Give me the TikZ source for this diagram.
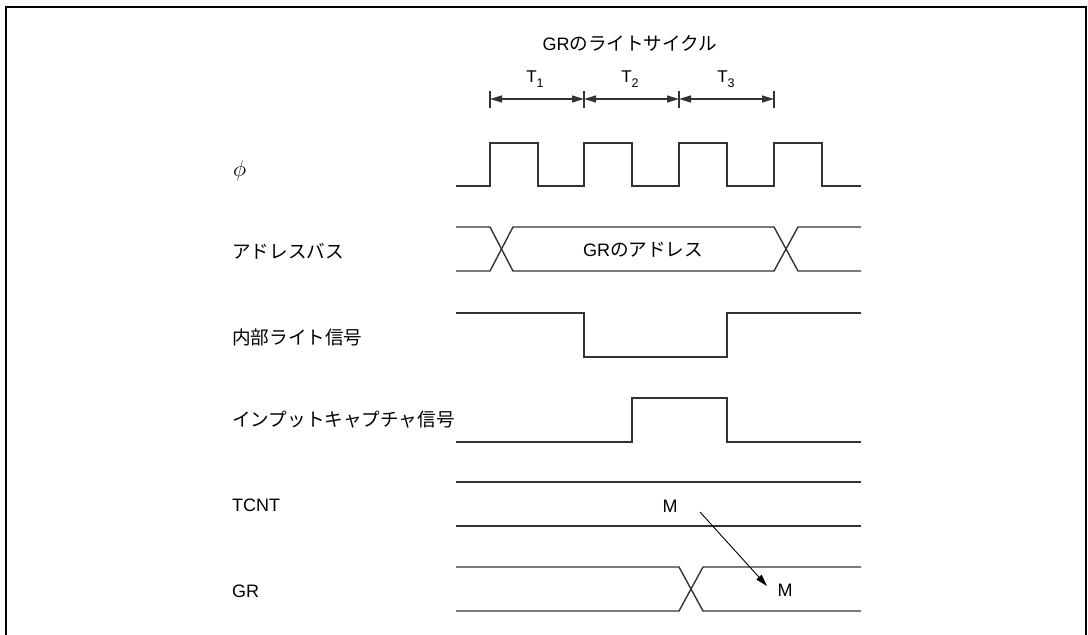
\documentclass[tikz,border=0pt]{standalone}
\usepackage{fontspec}
\setmainfont{Liberation Sans}
\newfontfamily\jpfont{Noto Sans CJK JP}
\usetikzlibrary{arrows.meta}
\newcommand{\JP}[1]{{\jpfont\fontsize{18.6}{22}\selectfont #1}}
\newcommand{\Tsub}[1]{{\fontsize{17}{19}\selectfont T\raisebox{-5pt}{\fontsize{12.5}{13}\selectfont #1}}}
\begin{document}
\begin{tikzpicture}[x=1pt,y=-1pt,
  sig/.style={line width=1.4pt, draw=black!80},
  framebox/.style={line width=2pt, draw=black},
  lbl/.style={anchor=west, inner sep=0pt, font=\fontsize{18}{20}\selectfont},
  txt/.style={inner sep=0pt, font=\fontsize{18}{20}\selectfont},
  tick/.style={line width=1.2pt, draw=black!80},
  dimarrow/.style={line width=1.2pt, draw=black!80, {Triangle[length=12pt,width=7pt]}-{Triangle[length=12pt,width=7pt]}},
  ptr/.style={line width=0.9pt, draw=black, -{Triangle[length=12pt,width=7pt]}}]
\useasboundingbox (0,0) rectangle (1088,635);
\draw[framebox] (6,636) -- (6,7) -- (1086,7) -- (1086,636);

% title and period marks
\node[txt] (title) at (630,43) {GR\JP{のライトサイクル}};
\foreach \x/\n in {490/t0,584/t1,679/t2,774/t3} {
  \coordinate (\n) at (\x,99);
  \draw[tick] (\x,91) -- (\x,108);
}
\draw[dimarrow] (t0) -- (t1);
\draw[dimarrow] (t1) -- (t2);
\draw[dimarrow] (t2) -- (t3);
\node[inner sep=0pt] (T1) at (535,79) {\Tsub{1}};
\node[inner sep=0pt] (T2) at (630,79) {\Tsub{2}};
\node[inner sep=0pt] (T3) at (726,79) {\Tsub{3}};

% signal labels
\node[lbl] (lphi) at (233,171) {\scalebox{1.3}{$\phi$}};
\node[lbl] (laddr) at (232,251) {\JP{アドレスバス}};
\node[lbl] (lwr) at (232,337) {\JP{内部ライト信号}};
\node[lbl] (lic) at (232,420) {\JP{インプットキャプチャ信号}};
\node[lbl] (ltc) at (232,505) {TCNT};
\node[lbl] (lgr) at (232,591) {GR};

% clock
\draw[sig] (456,186) -- (490,186) -- (490,143) -- (538,143) -- (538,186)
  -- (584,186) -- (584,143) -- (632,143) -- (632,186)
  -- (679,186) -- (679,143) -- (727,143) -- (727,186)
  -- (774,186) -- (774,143) -- (822,143) -- (822,186) -- (861,186);

% address bus
\draw[sig] (456,227) -- (490,227) -- (513,271) -- (774,271) -- (798,227) -- (861,227);
\draw[sig] (456,271) -- (490,271) -- (513,227) -- (774,227) -- (798,271) -- (861,271);
\node[txt] (addr) at (643,250) {GR\JP{のアドレス}};

% internal write
\draw[sig] (456,313) -- (584,313) -- (584,357) -- (727,357) -- (727,313) -- (861,313);

% input capture
\draw[sig] (456,442) -- (632,442) -- (632,398) -- (727,398) -- (727,442) -- (861,442);

% TCNT
\draw[sig] (456,482) -- (861,482);
\draw[sig] (456,526) -- (861,526);
\node[txt] (m1) at (670,506) {M};

% GR
\draw[sig] (456,567) -- (679,567) -- (703,611) -- (861,611);
\draw[sig] (456,611) -- (679,611) -- (703,567) -- (861,567);
\node[txt] (m2) at (785,590) {M};

\coordinate (a1) at (700,512);
\coordinate (a2) at (767,586);
\draw[ptr] (a1) -- (a2);
\end{tikzpicture}
\end{document}
